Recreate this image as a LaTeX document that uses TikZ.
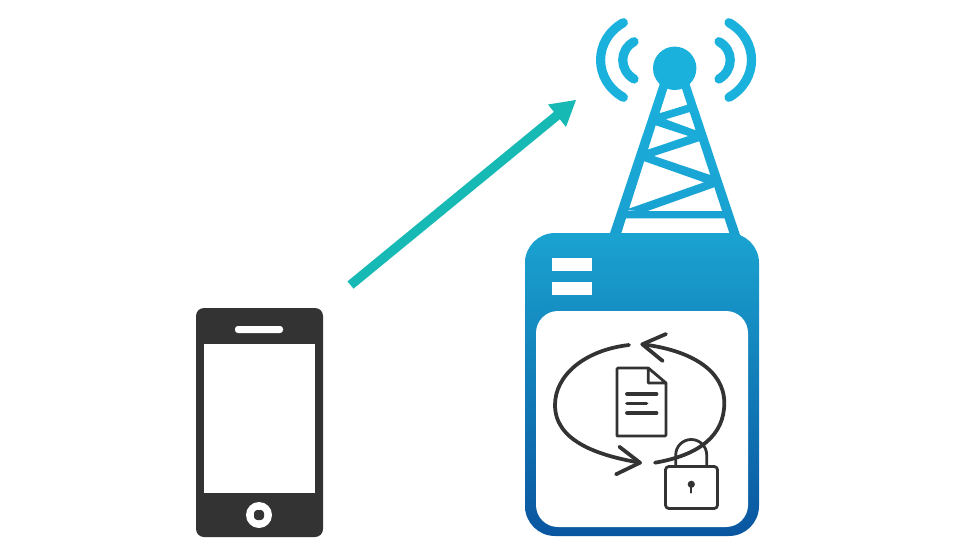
\documentclass[tikz,border=0pt]{standalone}
\usetikzlibrary{calc}
\definecolor{towerblue}{HTML}{1BB1DD}
\definecolor{towerlow}{HTML}{199FCF}
\definecolor{boxtop}{HTML}{1AA3D0}
\definecolor{boxbot}{HTML}{0A56A0}
\definecolor{phonegray}{HTML}{333333}
\definecolor{teal}{HTML}{17B9B5}
\tikzset{
  wave/.style={draw=towerblue,line width=6.9pt,line cap=round},
  icon/.style={draw=phonegray,line width=2.8pt,line cap=round,line join=round},
  thin icon/.style={draw=phonegray,line width=2.1pt,line cap=round,line join=round},
  link/.style={draw=teal,line width=7.1pt},
}
\begin{document}
\begin{tikzpicture}[x=0.75pt,y=-0.75pt]
\useasboundingbox (0,0) rectangle (960,560);
% tower, in 3x zoom units
\begin{scope}[shift={(580,0)},x=0.25pt,y=-0.25pt]
\shade[top color=towerblue,bottom color=towerlow]
  (240,250) -- (88,705) -- (122,705) -- (264,260) -- cycle
  (304,260) -- (450,705) -- (480,705) -- (328,250) -- cycle
  (125,633) -- (118,655) -- (438,655) -- (430,633) -- cycle
  (224,375) -- (325,408) -- (200,450) -- (188,482) -- (372,547) -- (135,630)
  -- (197,635) -- (408,560) -- (397,527) -- (222,468) -- (363,422) -- (350,392)
  -- (257,358) -- (333,335) -- (323,314) -- (238,340) -- cycle;
\end{scope}
\fill[towerblue] (674.7,68.3) circle[radius=21.7];
\draw[wave] (623.3,22.7) .. controls (593,40) and (593,80) .. (623.3,97.3);
\draw[wave] (634,41.7) .. controls (619,50) and (619,70) .. (634,79);
\draw[wave] (729,22.7) .. controls (759,40) and (759,80) .. (729,97.3);
\draw[wave] (719,41.7) .. controls (734,50) and (734,70) .. (719,79);
% base
\shade[top color=boxtop,bottom color=boxbot,rounded corners=22.5pt] (525,233) rectangle (759,536);
\fill[white,rounded corners=16.5pt] (536,311) rectangle (748,527);
\fill[white] (552,258) rectangle (592,271);
\fill[white] (552,282) rectangle (592,295);
% phone
\fill[phonegray,rounded corners=6pt] (196,308) rectangle (323,537);
\fill[white] (204,344) rectangle (315,493);
\fill[white,rounded corners=2.2pt] (235,326) rectangle (283,333);
\fill[white] (259,515) circle[radius=13];
\fill[phonegray,rounded corners=2.5pt] (254,510) rectangle (264,520);
% arrow
\coordinate (linkstart) at (350.5,285);
\coordinate (linkend) at (560,113);
\draw[link] (linkstart) -- (linkend);
\fill[teal] (576,100) -- (548,104.5) -- (566,127) -- cycle;
% cycle arrows
\draw[icon] (629,345) .. controls (585,350) and (555,375) .. (555,405) .. controls (555,440) and (595,455) .. (640,462.7);
\draw[icon] (619.3,446.7) -- (640,462.7) -- (616,474.3);
\draw[icon] (655,462.7) .. controls (700,455) and (724.3,435) .. (724.3,403) .. controls (724.3,370) and (690,350) .. (642.3,344.3);
\draw[icon] (666,334) -- (642.3,344.3) -- (662.7,361);
% document
\draw[thin icon] (648.3,368) -- (618,368) -- (617,369) -- (617,436) -- (665,436) -- (666,435) -- (666,383) -- (648.3,368) -- (648.3,383) -- (666,383);
\draw[icon] (627,394) -- (656.5,394);
\draw[icon] (627,403.5) -- (646.5,403.5);
\draw[icon] (627,413) -- (656.5,413);
% lock
\draw[thin icon,rounded corners=2.5pt] (665.5,466.5) rectangle (717.5,508.5);
\draw[thin icon] (675.7,466.5) -- (675.7,455) arc[start angle=180,end angle=360,x radius=15.5,y radius=15.5] -- (706.7,466.5);
\fill[phonegray] (691.3,484.3) circle[radius=3.6];
\draw[phonegray,line width=1.6pt,line cap=round] (691.3,484.3) -- (691.3,492.5);
\end{tikzpicture}
\end{document}
